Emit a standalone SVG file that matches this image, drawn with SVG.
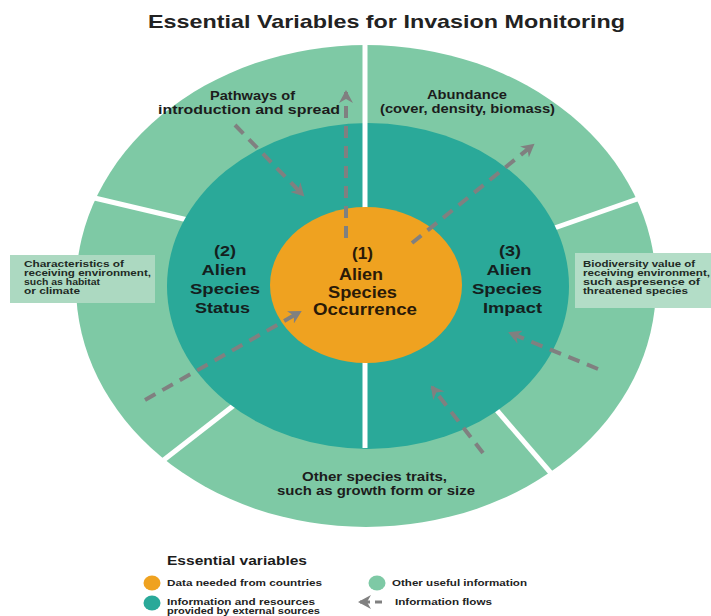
<svg xmlns="http://www.w3.org/2000/svg" width="711" height="616" viewBox="0 0 711 616">
<defs>
<style>
text{font-family:"Liberation Sans",Arial,sans-serif;font-weight:bold;fill:#1c1c1c}
.t{font-size:19px;fill:#222}
.ring{font-size:12px}
.main{font-size:15.5px;text-anchor:middle;fill:#14201e}
.ctr{font-size:16px;text-anchor:middle;fill:#2a1a08}
.box{font-size:8.3px;fill:#1e2a24}
.lg{font-size:9.5px;fill:#222}
.lg2{font-size:8.3px;fill:#222}
.sep{stroke:#fff;stroke-width:5}
.flow{stroke:#808080;stroke-width:4;stroke-dasharray:12 8;fill:none;marker-end:url(#ah)}
</style>
<marker id="ah" viewBox="0 0 14 14" refX="11" refY="7" markerWidth="14" markerHeight="14" markerUnits="userSpaceOnUse" orient="auto">
<path d="M0,0 L13,7 L0,14 L4,7 z" fill="#808080"/>
</marker>
</defs>
<rect width="711" height="616" fill="#fff"/>
<text class="t" x="148" y="28" textLength="477" lengthAdjust="spacingAndGlyphs">Essential Variables for Invasion Monitoring</text>

<g id="outer-ring">
<ellipse cx="366" cy="286" rx="290" ry="241" fill="#7ec9a5"/>
<line class="sep" x1="86" y1="196" x2="192" y2="221"/>
<line class="sep" x1="646" y1="196" x2="543" y2="232"/>
<line class="sep" x1="156" y1="466" x2="242" y2="399"/>
<line class="sep" x1="556" y1="479" x2="488" y2="400"/>
</g>
<g id="inner-ring">
<ellipse cx="368" cy="286" rx="201" ry="163" fill="#2aa999"/>
<line class="sep" x1="365" y1="40" x2="365" y2="448"/>
</g>
<g id="occurrence">
<ellipse cx="366" cy="285" rx="96" ry="78" fill="#efa220"/>
<text class="ctr" x="362.5" y="259" textLength="21" lengthAdjust="spacingAndGlyphs">(1)</text>
<text class="ctr" x="361" y="280" textLength="44" lengthAdjust="spacingAndGlyphs">Alien</text>
<text class="ctr" x="362.5" y="298" textLength="69" lengthAdjust="spacingAndGlyphs">Species</text>
<text class="ctr" x="365" y="315" textLength="104" lengthAdjust="spacingAndGlyphs">Occurrence</text>
</g>
<g id="status">
<text class="main" x="225" y="256" textLength="22" lengthAdjust="spacingAndGlyphs">(2)</text>
<text class="main" x="224" y="275" textLength="45" lengthAdjust="spacingAndGlyphs">Alien</text>
<text class="main" x="225" y="294" textLength="70" lengthAdjust="spacingAndGlyphs">Species</text>
<text class="main" x="222.5" y="313" textLength="55" lengthAdjust="spacingAndGlyphs">Status</text>
</g>
<g id="impact">
<text class="main" x="510" y="256" textLength="22" lengthAdjust="spacingAndGlyphs">(3)</text>
<text class="main" x="509" y="275" textLength="45" lengthAdjust="spacingAndGlyphs">Alien</text>
<text class="main" x="507" y="294" textLength="70" lengthAdjust="spacingAndGlyphs">Species</text>
<text class="main" x="512.5" y="313" textLength="59" lengthAdjust="spacingAndGlyphs">Impact</text>
</g>
<g id="pathways">
<text class="ring" x="210" y="100" textLength="85" lengthAdjust="spacingAndGlyphs">Pathways of</text>
<text class="ring" x="158" y="114" textLength="182" lengthAdjust="spacingAndGlyphs">introduction and spread</text>
</g>
<g id="abundance">
<text class="ring" x="427" y="99" textLength="80" lengthAdjust="spacingAndGlyphs">Abundance</text>
<text class="ring" x="380" y="113" textLength="175" lengthAdjust="spacingAndGlyphs">(cover, density, biomass)</text>
</g>
<g id="traits">
<text class="ring" x="302" y="481" textLength="145" lengthAdjust="spacingAndGlyphs">Other species traits,</text>
<text class="ring" x="277" y="495" textLength="198" lengthAdjust="spacingAndGlyphs">such as growth form or size</text>
</g>
<g id="environment">
<rect x="10" y="255" width="145" height="48" fill="#acd9c1"/>
<text class="box" x="24" y="266.5" textLength="100" lengthAdjust="spacingAndGlyphs">Characteristics of</text>
<text class="box" x="24" y="275.5" textLength="127" lengthAdjust="spacingAndGlyphs">receiving environment,</text>
<text class="box" x="24" y="284.5" textLength="76" lengthAdjust="spacingAndGlyphs">such as habitat</text>
<text class="box" x="24" y="293.5" textLength="56" lengthAdjust="spacingAndGlyphs">or climate</text>
</g>
<g id="biodiversity">
<rect x="575" y="253" width="136" height="55" fill="#b3ddc7"/>
<text class="box" x="583" y="266.5" textLength="112" lengthAdjust="spacingAndGlyphs">Biodiversity value of</text>
<text class="box" x="583" y="275.5" textLength="127" lengthAdjust="spacingAndGlyphs">receiving environment,</text>
<text class="box" x="583" y="284.5" textLength="117" lengthAdjust="spacingAndGlyphs">such aspresence of</text>
<text class="box" x="583" y="293.5" textLength="105" lengthAdjust="spacingAndGlyphs">threatened species</text>
</g>
<g id="connectors">
<line class="flow" x1="235" y1="125" x2="303" y2="195"/>
<line class="flow" x1="346" y1="238" x2="346" y2="92"/>
<line class="flow" x1="412" y1="243" x2="533" y2="145"/>
<line class="flow" x1="145" y1="400" x2="300" y2="312"/>
<line class="flow" x1="598" y1="369" x2="510" y2="333"/>
<line class="flow" x1="483" y1="453" x2="432" y2="387"/>
</g>
<g id="legend">
<text x="167" y="565" style="font-size:13px" textLength="140" lengthAdjust="spacingAndGlyphs">Essential variables</text>
<ellipse cx="152" cy="583" rx="8.5" ry="7.5" fill="#efa220"/>
<text class="lg" x="167" y="586" textLength="155" lengthAdjust="spacingAndGlyphs">Data needed from countries</text>
<ellipse cx="152" cy="603" rx="8.5" ry="7.5" fill="#2aa999"/>
<text class="lg2" x="167" y="604.5" textLength="148" lengthAdjust="spacingAndGlyphs">Information and resources</text>
<text class="lg2" x="167" y="614" textLength="153" lengthAdjust="spacingAndGlyphs">provided by external sources</text>
<ellipse cx="377" cy="583" rx="8.5" ry="7.5" fill="#7ec9a5"/>
<text class="lg" x="392" y="586" textLength="135" lengthAdjust="spacingAndGlyphs">Other useful information</text>
<line x1="382" y1="602" x2="375" y2="602" stroke="#808080" stroke-width="3"/>
<line x1="370" y1="602" x2="360" y2="602" stroke="#808080" stroke-width="3" marker-end="url(#ah)"/>
<text class="lg" x="395" y="605" textLength="97" lengthAdjust="spacingAndGlyphs">Information flows</text>
</g>
</svg>
